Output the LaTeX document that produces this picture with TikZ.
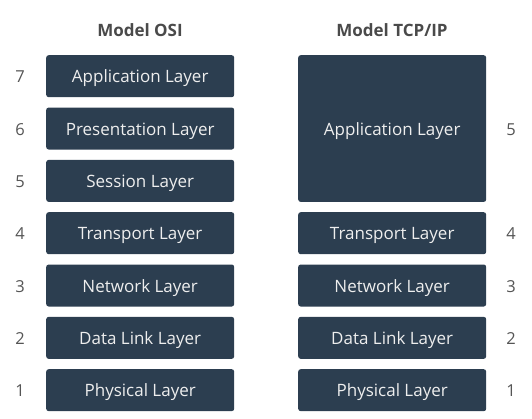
\documentclass[tikz,border=0pt]{standalone}
\usepackage{fontspec}
\setmainfont{Open Sans}
\definecolor{boxc}{HTML}{2C3E50}
\definecolor{titlec}{HTML}{4A4A4A}
\definecolor{numc}{HTML}{555555}
\definecolor{txtc}{HTML}{EEEEEE}
\begin{document}
\begin{tikzpicture}[x=1pt,y=-1pt,
  layer/.style={fill=boxc,rounded corners=2.5pt,minimum width=188pt,inner sep=0pt,text=txtc,font=\fontsize{17}{20}\selectfont,text height=13pt,text depth=0pt,anchor=north west},
  num/.style={text=numc,font=\fontsize{16.5}{20}\selectfont},
  ttl/.style={text=titlec,font=\bfseries\fontsize{17}{20}\selectfont}]
\useasboundingbox (0,0) rectangle (532,419);
\node[ttl] (t1) at (140,30.5) {Model OSI};
\node[ttl] (t2) at (392,30.5) {Model TCP/IP};
\foreach \i/\n/\t in {0/7/Application Layer,1/6/Presentation Layer,2/5/Session Layer,3/4/Transport Layer,4/3/Network Layer,5/2/Data Link Layer,6/1/Physical Layer}{
  \node[layer,minimum height=42pt] (o\n) at (46,{55+\i*52.33}) {\t};
  \node[num] (on\n) at (20,{77+\i*52.33}) {\n};
}
\node[layer,minimum height=146.7pt] (p5) at (298,55) {Application Layer};
\node[num] (pn5) at (511,{56+146.7/2}) {5};
\foreach \i/\n/\t in {3/4/Transport Layer,4/3/Network Layer,5/2/Data Link Layer,6/1/Physical Layer}{
  \node[layer,minimum height=42pt] (p\n) at (298,{55+\i*52.33}) {\t};
  \node[num] (pn\n) at (511,{77+\i*52.33}) {\n};
}
\end{tikzpicture}
\end{document}
